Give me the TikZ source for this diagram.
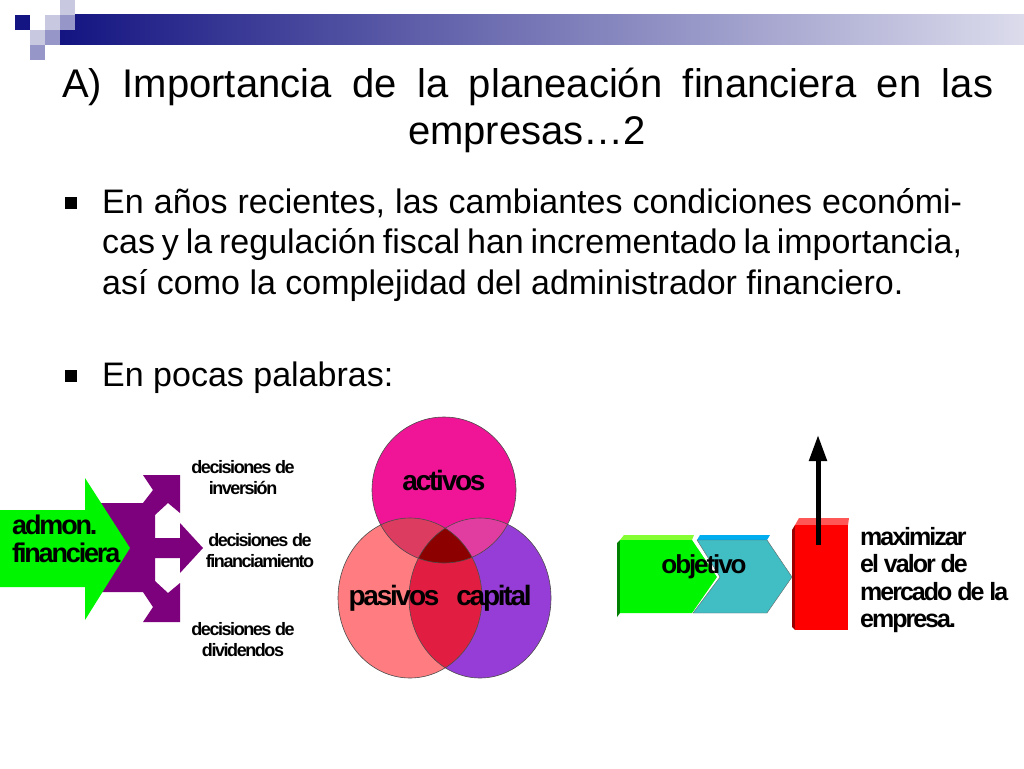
\documentclass[tikz,border=0pt]{standalone}
\usepackage{fontspec}
\setmainfont{Liberation Sans}
\newfontfamily\tight[LetterSpace=-8]{Liberation Sans}
\usetikzlibrary{arrows.meta}
\definecolor{navy}{RGB}{20,20,130}
\definecolor{lav1}{RGB}{200,200,225}
\definecolor{lav2}{RGB}{150,150,200}
\definecolor{cact}{RGB}{240,20,150}
\definecolor{cpas}{RGB}{255,125,128}
\definecolor{ccap}{RGB}{150,60,215}
\definecolor{capcol}{RGB}{220,60,95}
\definecolor{caccol}{RGB}{225,60,160}
\definecolor{cpccol}{RGB}{225,30,65}
\definecolor{callcol}{RGB}{140,0,0}
\definecolor{purp}{RGB}{125,0,125}
\definecolor{grn}{RGB}{0,245,0}
\definecolor{tealc}{RGB}{64,190,195}
\tikzset{
  small/.style={font=\tight\bfseries\fontsize{18}{21}\selectfont, align=center, inner sep=0},
  big/.style={font=\tight\bfseries\fontsize{27}{28}\selectfont, inner sep=0},
}
\begin{document}
\begin{tikzpicture}[x=1pt,y=-1pt]
\useasboundingbox (0,0) rectangle (1024,768);
\fill[white] (0,0) rectangle (1024,768);
% header decoration
\shade[left color=navy, right color=white!85!navy] (60,15) rectangle (1024,45);
\fill[navy] (15,15) rectangle (30,30);
\fill[lav1] (45,15) rectangle (60,30);
\fill[lav1] (60,0) rectangle (75,15);
\fill[lav2] (60,15) rectangle (75,30);
\fill[lav1] (30,30) rectangle (45,45);
\fill[lav2] (45,30) rectangle (60,45);
\fill[lav2] (30,45) rectangle (45,60);
% title
\node[anchor=base west, inner sep=0, font=\fontsize{40}{47}\selectfont] (title1) at (62,97)
 {\hbox to 931pt{A)\hfill Importancia\hfill de\hfill la\hfill planeación\hfill financiera\hfill en\hfill las}};
\node[anchor=base, inner sep=0, font=\fontsize{40}{47}\selectfont] (title2) at (527,144) {empresas…2};
% bullets
\fill (65,197) rectangle (77,209);
\fill (65,370) rectangle (77,382);
\node[anchor=base west, inner sep=0, text width=860pt, font=\fontsize{34}{40.5}\selectfont, align=justify] (b1) at (102,213)
 {\hyphenpenalty=10000 En años recientes, las cambiantes condiciones económicas y la regulación fiscal han incrementado la importancia, así como la complejidad del administrador financiero.};
\node[anchor=base west, inner sep=0, font=\fontsize{34}{40.5}\selectfont] (b2) at (102,386) {En pocas palabras:};
% left diagram
\fill[purp] (100,503)--(143,503)--(153,490)--(143,475)--(180,475)--(180,513)--(168,503)--(155,515)--(155,538)--(180,538)--(180,523)--(203,548)--(180,573)--(180,558)--(155,558)--(155,581)--(168,593)--(180,583)--(180,622)--(143,622)--(153,607)--(143,592)--(100,592)--cycle;
\fill[grn] (0,510)--(85,510)--(85,478)--(130,548)--(85,620)--(85,587)--(0,587)--cycle;
\node[big, anchor=west, align=left] (adm) at (12,539) {admon.\\financiera};
\node[small] (inv) at (243,478) {decisiones de\\inversión};
\node[small] (fin) at (260,551) {decisiones de\\financiamiento};
\node[small] (div) at (243,640) {decisiones de\\dividendos};
% venn
\def\VA{(444,490) ellipse [x radius=72, y radius=73]}
\def\VP{(410,598) ellipse [x radius=72, y radius=80]}
\def\VC{(480,598) ellipse [x radius=71, y radius=80]}
\fill[ccap] \VC; \fill[cpas] \VP; \fill[cact] \VA;
\begin{scope}\clip \VA; \fill[capcol] \VP; \end{scope}
\begin{scope}\clip \VA; \fill[caccol] \VC; \end{scope}
\begin{scope}\clip \VP; \fill[cpccol] \VC; \end{scope}
\begin{scope}\clip \VA; \clip \VP; \fill[callcol] \VC; \end{scope}
\draw[black!70, line width=0.6] \VA \VP \VC;
\node[big, font=\tight\bfseries\fontsize{28}{30}\selectfont] (act) at (444,480) {activos};
\node[big, font=\tight\bfseries\fontsize{28}{30}\selectfont] (pas) at (394,598) {pasivos};
\node[big, font=\tight\bfseries\fontsize{28}{30}\selectfont] (capl) at (494,598) {capital};
% right diagram
\fill[green!60!yellow!80!white] (620,540)--(624,535)--(694,535)--(692,540)--cycle;
\fill[green!50!black] (617,543)--(620,540)--(620,613)--(617,617)--cycle;
\fill[grn] (620,540)--(692,540)--(717,577)--(692,613)--(620,613)--cycle;
\fill[cyan] (697,540)--(700,535)--(770,535)--(767,540)--cycle;
\fill[tealc] (697,540)--(767,540)--(792,577)--(767,613)--(693,613)--(720,577)--cycle;
\draw[black!60, line width=0.4] (697,540)--(767,540)--(792,577)--(767,613)--(693,613)--(720,577)--cycle;
\fill[red!55!pink] (795,525)--(799,518)--(849,518)--(848,525)--cycle;
\fill[red!60!black] (792,530)--(795,525)--(795,630)--(792,627)--cycle;
\fill[red] (795,525) rectangle (848,630);
\coordinate (ab) at (818,545);
\coordinate (at) at (818,435);
\draw[line width=5, -{Triangle[width=17pt,length=26pt]}] (ab) -- (at);
\node[big, anchor=north west, align=left, font=\tight\bfseries\fontsize{25}{27.5}\selectfont] (max) at (860,527) {maximizar\\el valor de\\mercado de la\\empresa.};
\node[big, font=\tight\bfseries\fontsize{26}{27}\selectfont] (obj) at (704,567) {objetivo};
\end{tikzpicture}
\end{document}
